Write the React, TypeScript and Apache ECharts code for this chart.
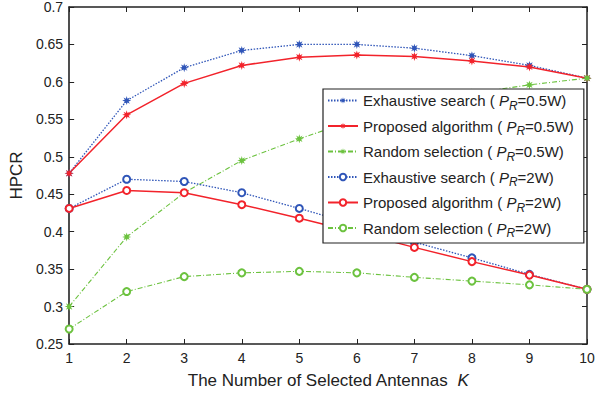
import React, { useEffect, useRef } from "react";
import * as echarts from "echarts";

const K = [1, 2, 3, 4, 5, 6, 7, 8, 9, 10];
const exhaustive05 = [0.478, 0.575, 0.619, 0.642, 0.65, 0.65, 0.645, 0.635, 0.622, 0.605];
const proposed05 = [0.478, 0.556, 0.598, 0.622, 0.633, 0.636, 0.634, 0.628, 0.62, 0.605];
const random05 = [0.3, 0.393, 0.452, 0.495, 0.524, 0.55, 0.57, 0.585, 0.596, 0.605];
const exhaustive2 = [0.431, 0.47, 0.467, 0.452, 0.431, 0.409, 0.386, 0.365, 0.343, 0.323];
const proposed2 = [0.431, 0.455, 0.452, 0.436, 0.418, 0.399, 0.379, 0.36, 0.342, 0.323];
const random2 = [0.27, 0.32, 0.34, 0.345, 0.347, 0.345, 0.339, 0.334, 0.329, 0.323];

const methods = ["Exhaustive search", "Proposed algorithm", "Random selection"];
const powers = ["0.5W", "2W"];

const BLUE = "#2f55b8";
const RED = "#f2232b";
const GREEN = "#6cc23f";

function starPath(): string {
  const pts: string[] = [];
  const n = 8;
  for (let i = 0; i < n * 2; i++) {
    const r = i % 2 === 0 ? 10 : 4.5;
    const a = (Math.PI * i) / n - Math.PI / 2;
    pts.push(`${(10 + r * Math.cos(a)).toFixed(2)} ${(10 + r * Math.sin(a)).toFixed(2)}`);
  }
  return "path://M" + pts.join(" L") + " Z";
}

export default function App() {
  const ref = useRef<HTMLDivElement>(null);
  useEffect(() => {
    if (!ref.current) return;
    const chart = echarts.init(ref.current, undefined, { renderer: "svg" });
    const star = starPath();
    const toPairs = (arr: number[]) => K.map((k, i) => [k, arr[i]]);
    const styles = [
      { color: BLUE, type: [1.5, 1.5] as any, width: 1.3 },
      { color: RED, type: "solid" as any, width: 1.5 },
      { color: GREEN, type: [5, 2, 1, 2] as any, width: 1.1 },
    ];
    const values = [
      [exhaustive05, proposed05, random05],
      [exhaustive2, proposed2, random2],
    ];
    const series: any[] = [];
    const names: string[] = [];
    powers.forEach((p, pi) => {
      methods.forEach((m, mi) => {
        const name = `${m} ( PR=${p})`;
        names.push(name);
        const st = styles[mi];
        series.push({
          name,
          type: "line",
          data: toPairs(values[pi][mi]),
          symbol: pi === 0 ? star : "emptyCircle",
          symbolSize: pi === 0 ? 9 : 7,
          showSymbol: true,
          lineStyle: { color: st.color, type: st.type, width: st.width },
          itemStyle: pi === 0 ? { color: st.color, borderWidth: 0 } : { color: st.color, borderColor: st.color, borderWidth: 1.4 },
          z: 2,
        });
      });
    });
    const font = "Liberation Sans, Arial, sans-serif";
    chart.setOption({
      animation: false,
      backgroundColor: "#ffffff",
      grid: { left: 68, right: 25, top: 5, bottom: 42, containLabel: false },
      xAxis: [
        {
          type: "value",
          min: 1,
          max: 10,
          interval: 1,
          position: "bottom",
          axisLine: { lineStyle: { color: "#222", width: 1.6 } },
          axisTick: { inside: true, length: 5, lineStyle: { color: "#222" } },
          axisLabel: { color: "#222", fontSize: 14, fontFamily: font, margin: 7 },
          splitLine: { show: false },
          name: "The Number of Selected Antennas  {k|K}",
          nameLocation: "middle",
          nameGap: 28,
          nameTextStyle: {
            color: "#222",
            fontSize: 17,
            fontFamily: font,
            rich: { k: { fontStyle: "italic", fontSize: 17, fontFamily: font, color: "#222" } },
          },
        },
        {
          type: "value",
          min: 1,
          max: 10,
          interval: 1,
          position: "top",
          axisLine: { lineStyle: { color: "#222", width: 1.5 } },
          axisTick: { inside: true, length: 5, lineStyle: { color: "#222" } },
          axisLabel: { show: false },
          splitLine: { show: false },
        },
      ],
      yAxis: [
        {
          type: "value",
          min: 0.25,
          max: 0.7,
          interval: 0.05,
          position: "left",
          axisLine: { show: true, lineStyle: { color: "#222", width: 1.6 } },
          axisTick: { show: true, inside: true, length: 5, lineStyle: { color: "#222" } },
          axisLabel: { color: "#222", fontSize: 14, fontFamily: font, margin: 6 },
          splitLine: { show: false },
          name: "HPCR",
          nameLocation: "middle",
          nameGap: 35,
          nameTextStyle: { color: "#222", fontSize: 17, fontFamily: font },
        },
        {
          type: "value",
          min: 0.25,
          max: 0.7,
          interval: 0.05,
          position: "right",
          axisLine: { show: true, lineStyle: { color: "#222", width: 1.5 } },
          axisTick: { show: true, inside: true, length: 5, lineStyle: { color: "#222" } },
          axisLabel: { show: false },
          splitLine: { show: false },
        },
      ],
      legend: {
        data: names,
        orient: "vertical",
        left: 323,
        top: 89,
        width: 257,
        padding: [4, 10, 4, 4],
        itemGap: 7,
        itemWidth: 30,
        itemHeight: 8,
        z: 20,
        backgroundColor: "#ffffff",
        borderColor: "#222",
        borderWidth: 1.2,
        borderRadius: 0,
        textStyle: {
          color: "#222",
          fontSize: 15,
          fontFamily: font,
          rich: {
            t: { fontSize: 15, fontFamily: font, color: "#222" },
            i: { fontSize: 15, fontStyle: "italic", fontFamily: font, color: "#222" },
            s: { fontSize: 12, fontStyle: "italic", fontFamily: font, color: "#222", padding: [10, 0, 0, 0] },
          },
        },
        formatter: (name: string) => {
          const m = name.match(/^(.*) \( PR=(.*)\)$/);
          if (!m) return name;
          return `{t|${m[1]} ( }{i|P}{s|R}{t|=${m[2]})}`;
        },
      },
      series,
    });
    return () => chart.dispose();
  }, []);
  return <div ref={ref} style={{ width: 612, height: 394, position: "absolute", left: 0, top: 0 }} />;
}
